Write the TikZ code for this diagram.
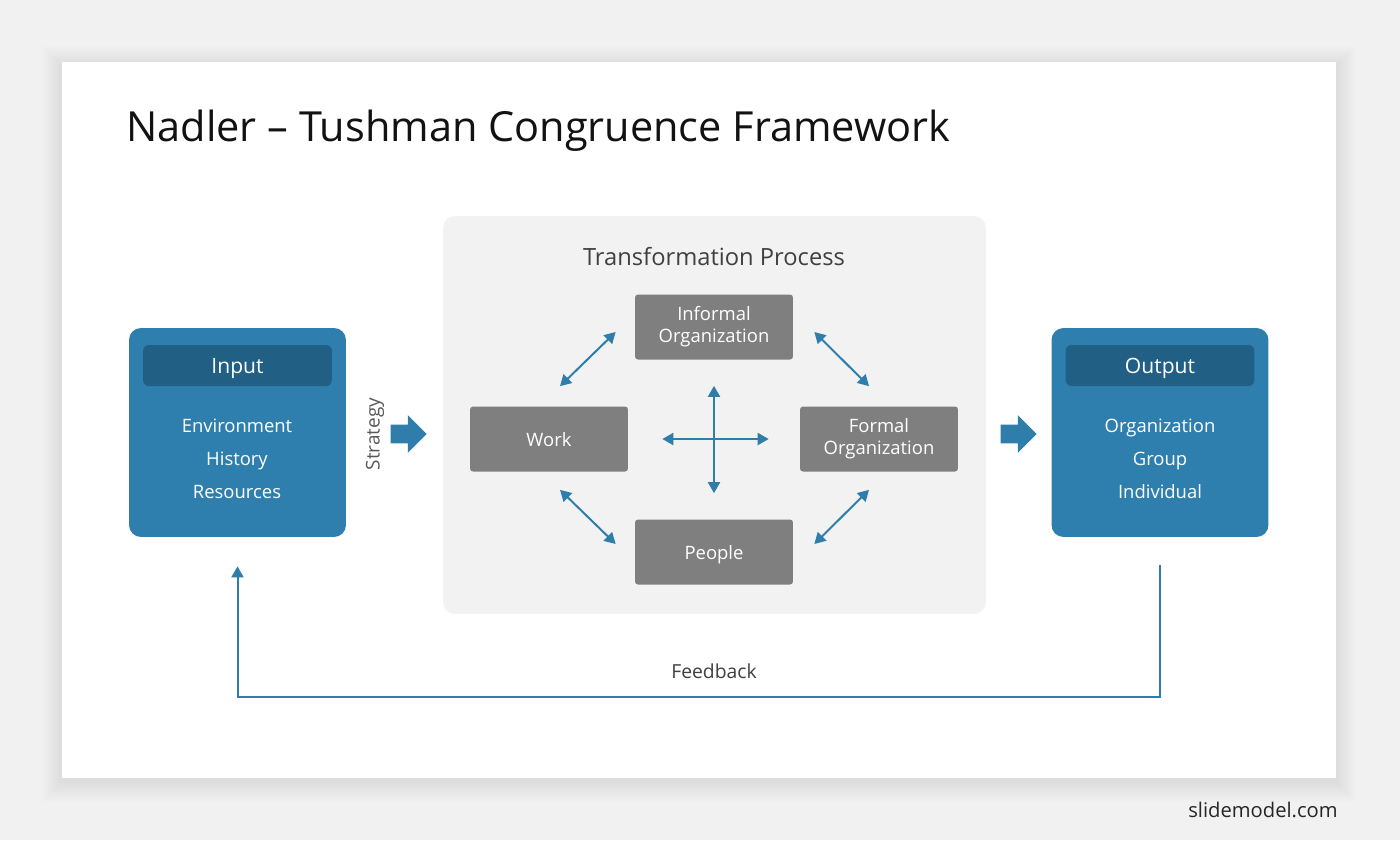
\documentclass[tikz,border=0pt]{standalone}
\usepackage{fontspec}
\setmainfont{Open Sans}
\usetikzlibrary{arrows.meta, positioning, shapes.arrows}

\definecolor{pagebg}{HTML}{F1F1F1}
\definecolor{procbg}{HTML}{F2F2F2}
\definecolor{nadblue}{HTML}{2F7FAE}
\definecolor{nadhead}{HTML}{215F85}
\definecolor{nadgray}{HTML}{7F7F7F}
\definecolor{linkblue}{HTML}{2E7DAA}
\definecolor{darktext}{HTML}{404040}

\begin{document}
\begin{tikzpicture}[
x=0.02cm, y=-0.02cm,
every node/.style={inner sep=0pt},
bluebox/.style={fill=nadblue, rounded corners=0.24cm, minimum width=4.34cm, minimum height=4.18cm},
headbox/.style={fill=nadhead, rounded corners=0.12cm, minimum width=3.78cm, minimum height=0.82cm, text depth=0pt, text=white, font=\fontsize{12}{14}\selectfont},
listtext/.style={text=white, align=center, font=\fontsize{10.5}{18.7}\selectfont},
element/.style={fill=nadgray, rounded corners=0.06cm, minimum width=3.16cm, minimum height=1.3cm, text=white, align=center, font=\fontsize{10.5}{12.5}\selectfont},
blockarrow/.style={single arrow, fill=linkblue, inner xsep=0pt, inner ysep=0.18cm, minimum height=0.72cm, single arrow head extend=0.19cm},
link/.style={{Triangle[length=0.22cm, width=0.24cm]}-{Triangle[length=0.22cm, width=0.24cm]}, draw=linkblue, line width=0.04cm},
fbline/.style={-{Triangle[length=0.22cm, width=0.24cm]}, draw=linkblue, line width=0.04cm}
]

% page and slide
\fill[pagebg] (0,0) rectangle (1400,840);
\foreach \i in {1,...,20}
  \fill[black, opacity=0.005] (62-\i,62-\i+4) rectangle (1336+\i,778+\i+4);
\fill[white] (62,62) rectangle (1336,778);

\node[anchor=west, font=\fontsize{23.6}{28}\selectfont, text=black!93] (title) at (126,131) {Nadler -- Tushman Congruence Framework};

% transformation process
\node[fill=procbg, rounded corners=0.24cm, minimum width=10.86cm, minimum height=7.96cm] (process) at (714.5,415) {};
\node[text=darktext, font=\fontsize{13.5}{16}\selectfont] (proctitle) at (714,257) {Transformation Process};

\node[element] (informal) at (714,327) {Informal\\Organization};
\node[element, text depth=0pt] (work) at (549,439) {Work};
\node[element] (formal) at (879,439) {Formal\\Organization};
\node[element, text depth=0pt] (people) at (714,552) {People};

\draw[link] ([shift={(11,-20)}]work.north) -- ([shift={(-19,5)}]informal.west);
\draw[link] ([shift={(21,5)}]informal.east) -- ([shift={(-10,-20)}]formal.north);
\draw[link] ([shift={(11,18)}]work.south) -- ([shift={(-19,-8)}]people.west);
\draw[link] ([shift={(-10,18)}]formal.south) -- ([shift={(21,-8)}]people.east);
\draw[link, shorten <=0.68cm, shorten >=0.62cm] (work) -- (formal);
\draw[link, shorten <=0.52cm, shorten >=0.52cm] (informal) -- (people);

% input
\node[bluebox] (input) at (237.5,432.5) {};
\node[headbox, below=0.34cm of input.north] (inputhead) {Input};
\node[listtext] (inputlist) at (237,459) {Environment\\History\\Resources};

% output
\node[bluebox] (output) at (1160,432.5) {};
\node[headbox, below=0.34cm of output.north] (outputhead) {Output};
\node[listtext] (outputlist) at (1160,459) {Organization\\Group\\Individual};

% strategy and result arrows
\node[blockarrow] (strategy) at (404,434) {};
\node[rotate=90, text=black!65, font=\fontsize{10.8}{13}\selectfont] (strategylabel) at (375,434) {Strategy};
\node[blockarrow] (result) at (1014,434) {};

% feedback loop
\draw[fbline, shorten <=0.56cm, shorten >=0.58cm] (output.south) -- ++(0,160) -| (input.south);
\node[text=darktext, font=\fontsize{11}{13}\selectfont] (feedback) at (714,671) {Feedback};

\node[text=black!85, font=\fontsize{11.5}{14}\selectfont] (brand) at (1263,810) {slidemodel.com};

\end{tikzpicture}
\end{document}
